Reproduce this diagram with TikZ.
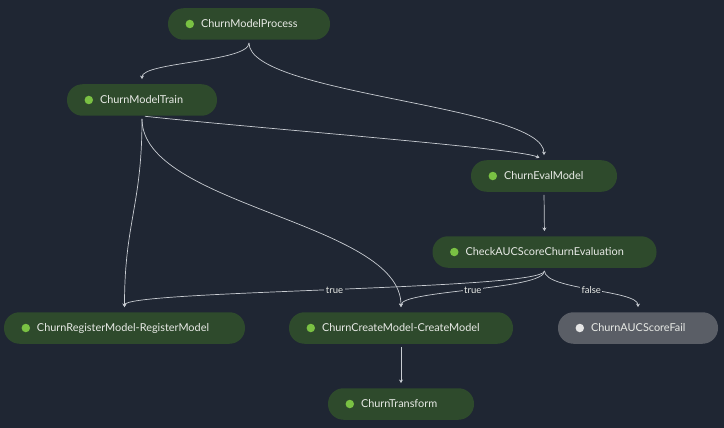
\documentclass[tikz,border=0pt]{standalone}
\usepackage{fontspec}
\setmainfont{Lato}
\usetikzlibrary{arrows.meta}
\definecolor{bg}{HTML}{1F2633}
\definecolor{nodegreen}{HTML}{2E4A2C}
\definecolor{nodegray}{HTML}{5A5E66}
\definecolor{dotgreen}{HTML}{7AC143}
\definecolor{dotgray}{HTML}{E6E6E6}
\definecolor{txt}{HTML}{E8EAE6}
\definecolor{edgecol}{HTML}{C8CCD2}
\newcommand\mkstep[7]{%
  \node[stepbox, fill=#6, minimum width=#4pt] (#1) at (#2,#3) {};
  \node[stdot, fill=#7] (#1-dot) at ([xshift=22pt]#1.west) {};
  \node[lbl, anchor=west] (#1-txt) at ([xshift=33pt]#1.west) {#5};}
\begin{document}
\begin{tikzpicture}[x=1pt,y=-1pt,
  stepbox/.style={rectangle, rounded corners=15.5pt, minimum height=31.5pt, inner sep=0pt},
  stdot/.style={circle, minimum size=8.5pt, inner sep=0pt},
  lbl/.style={text=txt, font=\fontsize{10.9}{12}\selectfont, inner sep=0pt, text height=7.8pt, text depth=0pt},
  edgelbl/.style={fill=bg, text=txt, font=\fontsize{9.5}{11}\selectfont, inner sep=1.5pt},
  conn/.style={draw=edgecol, line width=0.7pt, shorten <=3pt, shorten >=5pt, -{Stealth[length=3.5pt,width=4pt]}}
]
\fill[bg] (0,0) rectangle (724,428);
\useasboundingbox (0,0) rectangle (724,428);

\mkstep{proc}{249}{24}{162}{ChurnModelProcess}{nodegreen}{dotgreen}
\mkstep{train}{142}{100}{150}{ChurnModelTrain}{nodegreen}{dotgreen}
\mkstep{eval}{544}{176}{146}{ChurnEvalModel}{nodegreen}{dotgreen}
\mkstep{check}{544.5}{252}{224}{CheckAUCScoreChurnEvaluation}{nodegreen}{dotgreen}
\mkstep{reg}{124.5}{328}{241}{ChurnRegisterModel-RegisterModel}{nodegreen}{dotgreen}
\mkstep{create}{401}{328}{224}{ChurnCreateModel-CreateModel}{nodegreen}{dotgreen}
\mkstep{fail}{638}{328}{160}{ChurnAUCScoreFail}{nodegray}{dotgray}
\mkstep{transform}{401}{404}{146}{ChurnTransform}{nodegreen}{dotgreen}

\draw[conn] (proc.south) .. controls +(0,22) and +(0,-22) .. (train.north);
\draw[conn] (proc.south) .. controls +(0,55) and +(0,-55) .. (eval.north);
\draw[conn] (train.south) .. controls +(110,12) and +(-25,-12) .. (eval.north);
\draw[conn] (train.south) .. controls +(0,90) and +(0,-90) .. (reg.north);
\draw[conn] (train.south) .. controls +(0,90) and +(0,-90) .. (create.north);
\draw[conn] (eval.south) -- (check.north);
\draw[conn] (check.south) .. controls +(0,22) and +(0,-22) .. node[edgelbl, midway] {true} (reg.north);
\draw[conn] (check.south) .. controls +(0,22) and +(0,-22) .. node[edgelbl, midway] {true} (create.north);
\draw[conn] (check.south) .. controls +(0,22) and +(0,-22) .. node[edgelbl, midway] {false} (fail.north);
\draw[conn] (create.south) -- (transform.north);
\end{tikzpicture}
\end{document}
